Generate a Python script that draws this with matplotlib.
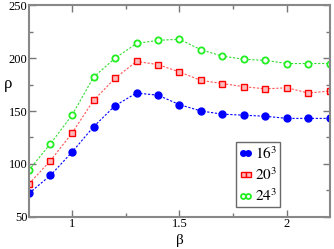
import numpy as np
import matplotlib.pyplot as plt

plt.rcParams['font.family'] = ['Liberation Serif', 'DejaVu Serif']
plt.rcParams['mathtext.fontset'] = 'stix'

beta = [0.8, 0.9, 1.0, 1.1, 1.2, 1.3, 1.4, 1.5, 1.6, 1.7, 1.8, 1.9, 2.0, 2.1, 2.2]
rho_16 = [72, 89, 111, 135, 155, 167, 165, 156, 150, 147, 146, 145, 143, 143, 143]
rho_20 = [81, 103, 129, 160, 181, 197, 194, 187, 179, 176, 173, 171, 172, 167, 169]
rho_24 = [94, 119, 146, 182, 200, 214, 217, 218, 208, 202, 199, 198, 195, 195, 195]
labels = ["$16^3$", "$20^3$", "$24^3$"]

fig = plt.figure(figsize=(3.34, 2.49), dpi=100)
ax = fig.add_axes([29/334, 1 - 216.5/249, 301/334, 211/249])

ax.plot(beta, rho_16, ls=(0, (2, 1.5)), lw=0.8, color="blue", marker="o",
        ms=5, mfc="blue", mec="blue", label=labels[0])
ax.plot(beta, rho_20, ls=(0, (2, 1.5)), lw=0.8, color="#ff5555", marker="s",
        ms=4.5, mfc="#ffbbbb", mec="red", mew=1, label=labels[1])
ax.plot(beta, rho_24, ls=(0, (2, 1.5)), lw=0.8, color="#33dd33", marker="o",
        ms=4.5, mfc="white", mec="#22ee22", mew=1.3, label=labels[2])

ax.set_xlim(0.8, 2.2)
ax.set_ylim(50, 250)
ax.set_xticks([1, 1.5, 2])
ax.set_xticklabels(["1", "1.5", "2"])
ax.set_xticks([1.25, 1.75], minor=True)
ax.set_yticks([50, 100, 150, 200, 250])
ax.set_yticks([75, 125, 175, 225], minor=True)
ax.tick_params(which="both", direction="in", top=True, right=True,
               color="#777777", labelsize=9, pad=1)
ax.tick_params(which="major", length=5, width=1)
ax.tick_params(which="minor", length=3, width=1)
for s in ax.spines.values():
    s.set_color("#888888")
    s.set_linewidth(1.5)

ax.set_xlabel("β", fontsize=11, labelpad=3)
fig.text(8/334, 1 - 84/249, "ρ", fontsize=12, ha="center", va="center")

leg = ax.legend(loc="lower right", bbox_to_anchor=(251/301, 9.5/211), fontsize=11,
                frameon=True, fancybox=False, edgecolor="#444444",
                numpoints=2, handlelength=0.9, handletextpad=0.15,
                labelspacing=0.3, borderpad=0.2, borderaxespad=0,
                markerscale=0.8)
leg.get_frame().set_linewidth(1)

fig.savefig("out.png", dpi=100)
